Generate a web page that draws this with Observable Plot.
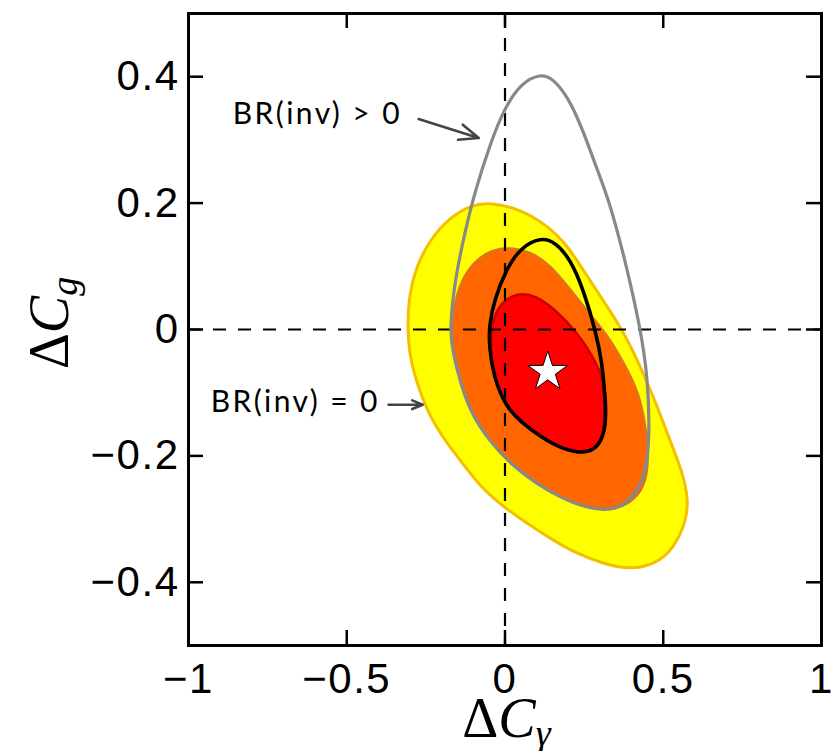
<!DOCTYPE html>
<html><head><meta charset="utf-8">
<script src="https://cdn.jsdelivr.net/npm/d3@7"></script>
<script src="https://cdn.jsdelivr.net/npm/@observablehq/plot@0.6"></script>
<style>body{margin:0;background:#fff}#chart{position:absolute;left:0;top:0}</style>
</head><body><div id="chart"></div>
<script>
const xTicks = [-1, -0.5, 0, 0.5, 1];
const xTickLabels = ["−1", "−0.5", "0", "0.5", "1"];
const yTicks = [-0.4, -0.2, 0, 0.2, 0.4];
const yTickLabels = ["−0.4", "−0.2", "0", "0.2", "0.4"];
const zeroLines = [0];

// 95% region (yellow)
const yellowContour = [
  [-0.045, 0.201], [0.050, 0.190], [0.129, 0.166], [0.192, 0.137], [0.255, 0.088],
  [0.318, 0.040], [0.375, -0.004], [0.429, -0.060], [0.476, -0.115], [0.523, -0.178],
  [0.561, -0.226], [0.580, -0.270], [0.571, -0.306], [0.532, -0.347], [0.476, -0.371],
  [0.397, -0.380], [0.318, -0.372], [0.223, -0.354], [0.144, -0.331], [0.065, -0.305],
  [-0.004, -0.281], [-0.077, -0.249], [-0.124, -0.218], [-0.187, -0.178], [-0.237, -0.138],
  [-0.270, -0.097], [-0.299, -0.050], [-0.308, -0.002], [-0.305, 0.045], [-0.285, 0.095],
  [-0.237, 0.143], [-0.172, 0.178], [-0.108, 0.197]
];
// 90% region (orange)
const orangeContour = [
  [0.009, 0.131], [0.081, 0.123], [0.144, 0.102], [0.208, 0.062], [0.271, 0.022],
  [0.327, -0.011], [0.381, -0.058], [0.424, -0.101], [0.447, -0.160], [0.454, -0.209],
  [0.441, -0.249], [0.399, -0.274], [0.334, -0.287], [0.255, -0.282], [0.176, -0.266],
  [0.097, -0.243], [0.018, -0.213], [-0.045, -0.178], [-0.110, -0.130], [-0.143, -0.081],
  [-0.165, -0.034], [-0.168, 0.006], [-0.159, 0.046], [-0.126, 0.092], [-0.061, 0.123]
];
// 68% region (red)
const redContour = [
  [0.040, 0.058], [0.097, 0.054], [0.160, 0.031], [0.223, -0.002], [0.277, -0.041],
  [0.314, -0.081], [0.323, -0.129], [0.314, -0.168], [0.279, -0.193], [0.223, -0.196],
  [0.160, -0.185], [0.097, -0.165], [0.034, -0.138], [-0.014, -0.106], [-0.040, -0.065],
  [-0.046, -0.026], [-0.040, 0.014], [-0.014, 0.043]
];
// BR(inv) = 0 contour (black)
const blackContour = [
  [0.113, 0.146], [0.160, 0.138], [0.208, 0.110], [0.249, 0.061], [0.286, -0.002],
  [0.306, -0.050], [0.316, -0.105], [0.320, -0.152], [0.298, -0.186], [0.249, -0.197],
  [0.176, -0.188], [0.113, -0.170], [0.050, -0.146], [0.002, -0.122], [-0.037, -0.073],
  [-0.050, -0.026], [-0.050, 0.006], [-0.034, 0.046], [0.002, 0.094], [0.050, 0.130]
];
// BR(inv) > 0 contour (gray)
const grayContour = [
  [0.113, 0.405], [0.151, 0.397], [0.192, 0.372], [0.226, 0.339], [0.258, 0.299],
  [0.293, 0.251], [0.328, 0.204], [0.359, 0.148], [0.391, 0.085], [0.429, -0.002],
  [0.450, -0.073], [0.457, -0.152], [0.450, -0.210], [0.431, -0.245], [0.388, -0.274],
  [0.334, -0.287], [0.255, -0.282], [0.176, -0.266], [0.097, -0.243], [0.018, -0.213],
  [-0.052, -0.175], [-0.110, -0.130], [-0.143, -0.081], [-0.165, -0.034], [-0.175, -0.002],
  [-0.159, 0.077], [-0.126, 0.156], [-0.093, 0.222], [-0.045, 0.296], [-0.004, 0.348],
  [0.050, 0.390]
];
const bestFit = [[0.135, -0.067]];

const annotationText = ["BR(inv) > 0", "BR(inv) = 0"];
const annotationX = [-0.860, -0.930];
const annotationY = [0.340, -0.116];
const arrowX1 = [-0.273, -0.368];
const arrowY1 = [0.333, -0.119];
const arrowX2 = [-0.083, -0.260];
const arrowY2 = [0.303, -0.119];

const W = 834, H = 751, mL = 188, mR = 13, mT = 13, mB = 106;
const frameW = W - mL - mR, frameH = H - mT - mB, tickLen = 15;
const idx = annotationText.map((_, i) => i);

const contour = (data, opts) => Plot.line(data, {x: d => d[0], y: d => d[1], curve: "basis-closed", ...opts});

const chart = Plot.plot({
  width: W, height: H,
  marginLeft: mL, marginRight: mR, marginTop: mT, marginBottom: mB,
  style: {fontFamily: "'Liberation Sans', Arial, sans-serif", background: "#fff", color: "black"},
  x: {domain: [-1, 1]},
  y: {domain: [-0.5, 0.5]},
  marks: [
    contour(yellowContour, {fill: "#ffff00", stroke: "#f2c000", strokeWidth: 3}),
    contour(orangeContour, {fill: "#ff6600", stroke: "#dd7222", strokeWidth: 2.5}),
    contour(redContour, {fill: "#ff0000", stroke: "#cc0000", strokeWidth: 2.5}),
    Plot.ruleX(zeroLines, {x: d => d, stroke: "black", strokeWidth: 2.2, strokeDasharray: "13,12"}),
    Plot.ruleY(zeroLines, {y: d => d, stroke: "black", strokeWidth: 2.2, strokeDasharray: "13,12"}),
    contour(grayContour, {fill: "none", stroke: "#888888", strokeWidth: 3.2}),
    contour(blackContour, {fill: "none", stroke: "black", strokeWidth: 3.6}),
    Plot.dot(bestFit, {x: d => d[0], y: d => d[1], symbol: "star", r: 12.5, fill: "white", stroke: "black", strokeWidth: 1}),
    Plot.arrow(idx, {x1: i => arrowX1[i], y1: i => arrowY1[i], x2: i => arrowX2[i], y2: i => arrowY2[i], stroke: "#444", strokeWidth: 2.6, headLength: 12, headAngle: 45}),
    Plot.text(idx, {x: i => annotationX[i], y: i => annotationY[i], text: i => annotationText[i], textAnchor: "start", fontSize: 30, fontFamily: "Lato, 'Open Sans', sans-serif", fill: "black"}),
    Plot.frame({stroke: "black", strokeWidth: 3}),
    Plot.tickX(xTicks, {x: d => d, insetTop: frameH - tickLen, stroke: "black", strokeWidth: 2.5}),
    Plot.tickX(xTicks, {x: d => d, insetBottom: frameH - tickLen, stroke: "black", strokeWidth: 2.5}),
    Plot.tickY(yTicks, {y: d => d, insetRight: frameW - tickLen, stroke: "black", strokeWidth: 2.5}),
    Plot.tickY(yTicks, {y: d => d, insetLeft: frameW - tickLen, stroke: "black", strokeWidth: 2.5}),
    Plot.axisX(xTicks, {anchor: "bottom", tickSize: 0, tickPadding: 18, fontSize: 42, tickFormat: d => xTickLabels[xTicks.indexOf(d)], label: null}),
    Plot.axisY(yTicks, {anchor: "left", tickSize: 0, tickPadding: 9, fontSize: 42, tickFormat: d => yTickLabels[yTicks.indexOf(d)], label: null})
  ]
});
document.getElementById("chart").appendChild(chart);

const svg = d3.select(chart);
// Widen label spacing to match the reference typography
svg.selectAll("text").filter(function () { return this.textContent.startsWith("BR"); })
  .attr("letter-spacing", 2.4);
svg.selectAll("text").filter(function () { return /^[−0-9.]+$/.test(this.textContent); })
  .attr("letter-spacing", 1.5);

// Axis titles with math-style subscripts
const serif = "'Liberation Serif', 'DejaVu Serif', serif";
const xl = svg.append("text")
  .attr("x", mL + frameW / 2 + 2).attr("y", 737)
  .attr("text-anchor", "middle").attr("font-family", serif).attr("font-size", 56).attr("fill", "black");
xl.append("tspan").text("Δ");
xl.append("tspan").attr("font-style", "italic").text("C");
xl.append("tspan").attr("font-style", "italic").attr("font-size", 38).attr("dy", 9).text("γ");

const yl = svg.append("text")
  .attr("transform", `translate(68,${mT + frameH / 2 - 6}) rotate(-90)`)
  .attr("text-anchor", "middle").attr("font-family", serif).attr("font-size", 56).attr("fill", "black");
yl.append("tspan").text("Δ");
yl.append("tspan").attr("font-style", "italic").text("C");
yl.append("tspan").attr("font-style", "italic").attr("font-size", 38).attr("dy", 9).text("g");
</script>
</body></html>
